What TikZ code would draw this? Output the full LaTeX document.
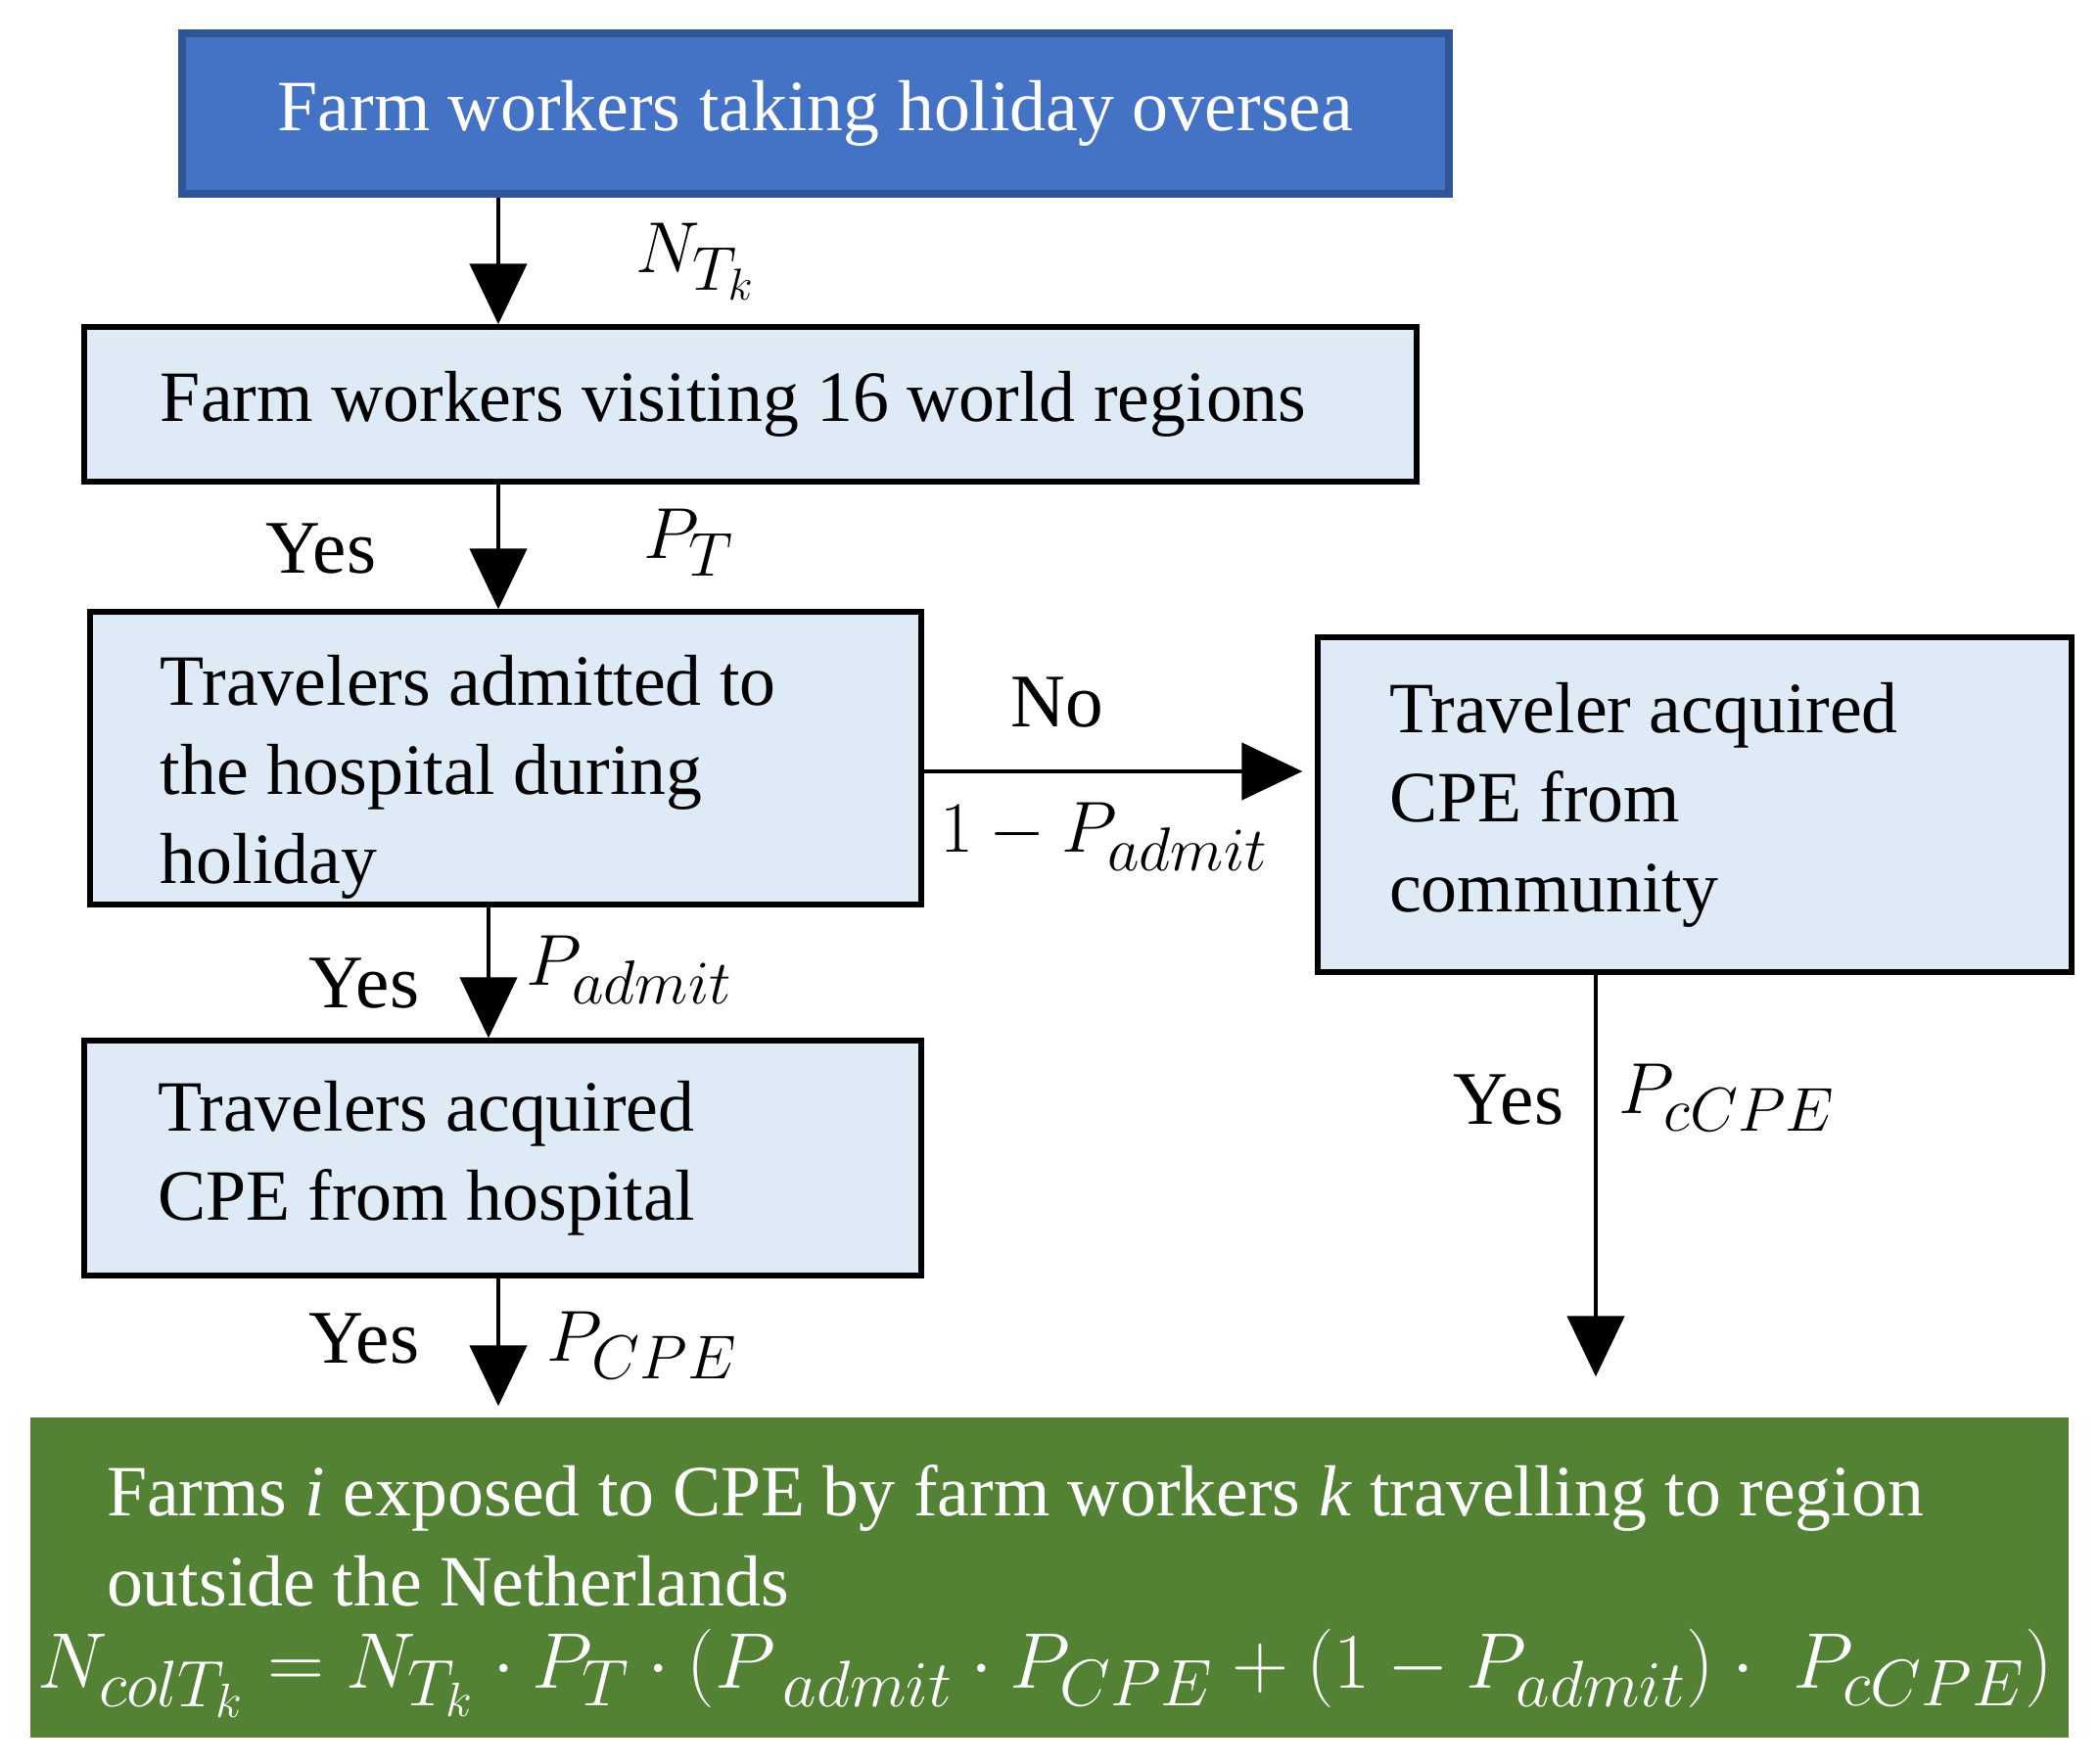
\documentclass[tikz,border=0pt]{standalone}
\usepackage{fix-cm}
\usepackage{fontspec}
\setmainfont{Liberation Serif}
\usetikzlibrary{arrows.meta}
\definecolor{topblue}{HTML}{4472C4}
\definecolor{topedge}{HTML}{2F5597}
\definecolor{paleblue}{HTML}{DEEBF7}
\definecolor{farmgreen}{HTML}{548235}
\DeclareMathSizes{22}{21}{18}{13}
\DeclareMathSizes{22.9}{22.9}{19.1}{14}
\newcommand{\boxfont}{\fontsize{21}{26}\selectfont}

\tikzset{
  lightbox/.style={rectangle, draw=black, line width=1.5pt, fill=paleblue, align=left, inner sep=0pt, font=\boxfont,
                   execute at begin node={\spaceskip=0pt\relax}},
  tag/.style={inner sep=0pt, font=\fontsize{22}{26}\selectfont},
  flow/.style={-{Triangle[length=6.2mm,width=5.8mm]}, line width=1.3pt},
}

\begin{document}
\begin{tikzpicture}
        \useasboundingbox (0,0) rectangle (21.44,-18.02);

        \node[rectangle, draw=topedge, line width=2.5pt, fill=topblue, text=white, inner sep=0pt,
              minimum width=12.94cm, minimum height=1.64cm, font=\boxfont] (oversea) at (8.33,-1.16)
              {Farm workers taking holiday oversea};

        \node[lightbox, minimum width=13.61cm, minimum height=1.58cm, text width=12.05cm] (regions) at (7.665,-4.13)
              {Farm workers visiting 16 world regions};

        \node[lightbox, minimum width=8.49cm, minimum height=2.99cm, text width=7.05cm] (admitted) at (5.165,-7.745)
              {\rule{0pt}{0.9cm}Travelers admitted to\\ the hospital during\\ holiday};

        \node[lightbox, minimum width=7.70cm, minimum height=3.42cm, text width=6.24cm] (community) at (17.31,-8.22)
              {Traveler acquired\\ CPE from\\ community};

        \node[lightbox, minimum width=8.55cm, minimum height=2.40cm, text width=7.05cm] (hospital) at (5.135,-11.83)
              {Travelers acquired\\ CPE from hospital};

        \node[lightbox, draw=none, fill=farmgreen, text=white,
              minimum width=20.82cm, minimum height=3.27cm, text width=19.26cm] (farms) at (10.72,-16.115)
              {\rule{0pt}{0.8cm}Farms \textit{i} exposed to CPE by farm workers \textit{k} travelling to region\\
               outside the Netherlands\\[-2pt]
               \hspace*{-0.71cm}\makebox[0pt][l]{\fontsize{22.9}{26}\selectfont$N_{colT_k} = N_{T_k}\cdot P_T\cdot (P_{\;admit}\cdot P_{CPE} + (1 - P_{admit})\cdot\; P_{cCPE})$}};

        % labels on the connectors
        \node[tag] (ntk) at (7.11,-2.67) {$N_{T_k}$};
        \node[tag] (yesT) at (3.28,-5.61) {Yes};
        \node[tag] (pt) at (7.04,-5.54) {$P_T$};
        \node[tag] (no) at (10.80,-7.18) {No};
        \node[tag] (notadmit) at (11.28,-8.55) {$1 - P_{admit}$};
        \node[tag] (yesA) at (3.72,-10.05) {Yes};
        \node[tag] (padmit) at (6.43,-9.91) {$P_{admit}$};
        \node[tag] (yesH) at (3.72,-13.68) {Yes};
        \node[tag] (pcpe) at (6.56,-13.74) {$P_{CPE}$};
        \node[tag] (yesC) at (15.41,-11.24) {Yes};
        \node[tag] (pccpe) at (17.64,-11.21) {$P_{cCPE}$};

        \coordinate (spine) at (5.09,0);
        \coordinate (spineb) at (4.99,0);
        \coordinate (rspine) at (16.30,0);
        \coordinate (noline) at (0,-7.88);

        \draw[flow] (oversea.south -| spine) -- (regions.north -| spine);
        \draw[flow] (regions.south -| spine) -- (admitted.north -| spine);
        \draw[flow] (admitted.east |- noline) -- ([xshift=-0.13cm]community.west |- noline);
        \draw[flow] (admitted.south -| spineb) -- (hospital.north -| spineb);
        \draw[flow] (hospital.south -| spine) -- ([yshift=0.09cm]farms.north -| spine);
        \draw[flow] (community.south -| rspine) -- ([yshift=0.39cm]farms.north -| rspine);

\end{tikzpicture}
\end{document}
